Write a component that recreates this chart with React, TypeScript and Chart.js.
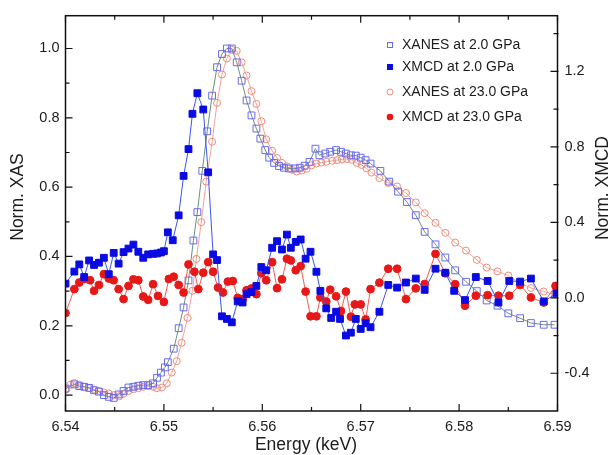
import React, { useEffect, useRef } from 'react';
import { Chart, registerables } from 'chart.js';

Chart.register(...registerables);

// ---------------- data ----------------
const xanes2Energy = [
  6.5400, 6.5409, 6.5414, 6.5419, 6.5424, 6.5429, 6.5434, 6.5439, 6.5444, 6.5449,
  6.5454, 6.5459, 6.5464, 6.5469, 6.5474, 6.5479, 6.5484, 6.5489, 6.5493, 6.5497,
  6.5501, 6.5504, 6.5510, 6.5515, 6.5520, 6.5525, 6.5530, 6.5534, 6.5539, 6.5544,
  6.5549, 6.5554, 6.5559, 6.5564, 6.5569, 6.5574, 6.5579, 6.5584, 6.5589, 6.5594,
  6.5598, 6.5603, 6.5607, 6.5612, 6.5617, 6.5622, 6.5627, 6.5633, 6.5638, 6.5643,
  6.5648, 6.5654, 6.5658, 6.5664, 6.5669, 6.5675, 6.5680, 6.5685, 6.5690, 6.5695,
  6.5700, 6.5705, 6.5710, 6.5720, 6.5729, 6.5738, 6.5747, 6.5756, 6.5765, 6.5776,
  6.5786, 6.5796, 6.5807, 6.5818, 6.5828, 6.5839, 6.5850, 6.5862, 6.5873, 6.5886, 6.5897,
];
const xanes2Values = [
  0.019, 0.031, 0.026, 0.024, 0.021, 0.014, 0.010, 0.000, -0.005, -0.008,
  0.002, 0.012, 0.022, 0.024, 0.027, 0.029, 0.029, 0.034, 0.050, 0.065,
  0.080, 0.095, 0.134, 0.193, 0.253, 0.331, 0.446, 0.528, 0.647, 0.761,
  0.864, 0.946, 0.984, 1.000, 1.000, 0.960, 0.907, 0.850, 0.807, 0.769,
  0.740, 0.707, 0.685, 0.670, 0.661, 0.656, 0.654, 0.654, 0.656, 0.662,
  0.673, 0.711, 0.692, 0.697, 0.702, 0.707, 0.702, 0.697, 0.692, 0.691,
  0.685, 0.678, 0.668, 0.647, 0.616, 0.587, 0.557, 0.519, 0.471, 0.435,
  0.397, 0.360, 0.327, 0.300, 0.273, 0.258, 0.236, 0.222, 0.208, 0.203, 0.203,
];

const xanes23Energy = [
  6.5400, 6.5405, 6.5409, 6.5414, 6.5419, 6.5424, 6.5429, 6.5434, 6.5439, 6.5444,
  6.5449, 6.5455, 6.5459, 6.5464, 6.5469, 6.5474, 6.5479, 6.5484, 6.5489, 6.5493,
  6.5498, 6.5503, 6.5508, 6.5513, 6.5518, 6.5524, 6.5529, 6.5533, 6.5538, 6.5543,
  6.5549, 6.5554, 6.5559, 6.5564, 6.5569, 6.5574, 6.5579, 6.5584, 6.5589, 6.5594,
  6.5599, 6.5604, 6.5610, 6.5615, 6.5620, 6.5625, 6.5630, 6.5635, 6.5640, 6.5645,
  6.5650, 6.5655, 6.5660, 6.5665, 6.5671, 6.5676, 6.5681, 6.5686, 6.5691, 6.5696,
  6.5701, 6.5706, 6.5711, 6.5719, 6.5728, 6.5737, 6.5746, 6.5756, 6.5765, 6.5776,
  6.5786, 6.5796, 6.5807, 6.5818, 6.5828, 6.5839, 6.5850, 6.5862, 6.5873, 6.5886, 6.5897,
];
const xanes23Values = [
  0.016, 0.030, 0.035, 0.030, 0.024, 0.020, 0.016, 0.012, 0.008, 0.005,
  0.000, -0.003, 0.004, 0.012, 0.017, 0.020, 0.024, 0.026, 0.024, 0.020,
  0.022, 0.034, 0.065, 0.098, 0.151, 0.223, 0.301, 0.393, 0.499, 0.616,
  0.731, 0.843, 0.925, 0.971, 0.996, 0.993, 0.960, 0.922, 0.877, 0.840,
  0.790, 0.738, 0.705, 0.684, 0.670, 0.660, 0.650, 0.645, 0.648, 0.653,
  0.663, 0.668, 0.671, 0.673, 0.676, 0.678, 0.680, 0.681, 0.679, 0.670,
  0.664, 0.654, 0.642, 0.626, 0.612, 0.602, 0.583, 0.556, 0.525, 0.497,
  0.468, 0.440, 0.417, 0.390, 0.368, 0.357, 0.345, 0.323, 0.309, 0.299, 0.290,
];

const xmcd2Energy = [
  6.5400, 6.5409, 6.5414, 6.5419, 6.5424, 6.5429, 6.5434, 6.5439, 6.5444, 6.5449,
  6.5454, 6.5459, 6.5464, 6.5469, 6.5474, 6.5479, 6.5484, 6.5489, 6.5493, 6.5497,
  6.5500, 6.5504, 6.5509, 6.5515, 6.5520, 6.5525, 6.5529, 6.5534, 6.5540, 6.5545,
  6.5550, 6.5554, 6.5559, 6.5564, 6.5569, 6.5575, 6.5580, 6.5584, 6.5589, 6.5594,
  6.5599, 6.5604, 6.5610, 6.5615, 6.5620, 6.5625, 6.5629, 6.5634, 6.5639, 6.5644,
  6.5649, 6.5655, 6.5659, 6.5665, 6.5670, 6.5675, 6.5679, 6.5685, 6.5690, 6.5695,
  6.5700, 6.5705, 6.5710, 6.5719, 6.5728, 6.5737, 6.5746, 6.5756, 6.5765, 6.5776,
  6.5786, 6.5795, 6.5806, 6.5817, 6.5829, 6.5840, 6.5851, 6.5862, 6.5873, 6.5886, 6.5899,
];
const xmcd2Values = [
  0.075, 0.139, 0.177, 0.110, 0.198, 0.174, 0.186, 0.212, 0.125, 0.238,
  0.181, 0.242, 0.261, 0.282, 0.244, 0.212, 0.230, 0.233, 0.235, 0.240,
  0.247, 0.347, 0.305, 0.437, 0.646, 0.788, 0.975, 1.084, 0.998, 0.665,
  0.230, 0.200, -0.098, -0.112, -0.130, -0.019, -0.025, 0.019, 0.030, 0.063,
  0.163, 0.146, 0.265, 0.300, 0.256, 0.335, 0.265, 0.296, 0.309, 0.207,
  0.244, 0.138, 0.037, -0.056, -0.107, -0.074, -0.112, -0.200, -0.185, -0.112,
  -0.165, -0.135, -0.156, -0.074, 0.068, 0.054, 0.081, 0.102, 0.042, 0.154,
  0.133, 0.037, -0.012, 0.110, 0.089, -0.025, 0.089, 0.086, 0.102, -0.019, 0.023,
];

const xmcd23Energy = [
  6.5400, 6.5409, 6.5414, 6.5419, 6.5425, 6.5429, 6.5434, 6.5439, 6.5444, 6.5449,
  6.5454, 6.5459, 6.5464, 6.5469, 6.5474, 6.5479, 6.5484, 6.5489, 6.5494, 6.5500,
  6.5505, 6.5510, 6.5515, 6.5520, 6.5525, 6.5531, 6.5535, 6.5540, 6.5545, 6.5550,
  6.5555, 6.5560, 6.5565, 6.5570, 6.5575, 6.5580, 6.5584, 6.5589, 6.5594, 6.5599,
  6.5604, 6.5610, 6.5615, 6.5620, 6.5625, 6.5629, 6.5634, 6.5639, 6.5644, 6.5649,
  6.5655, 6.5659, 6.5665, 6.5669, 6.5675, 6.5680, 6.5685, 6.5690, 6.5694, 6.5700,
  6.5705, 6.5710, 6.5719, 6.5728, 6.5737, 6.5746, 6.5756, 6.5765, 6.5776, 6.5786,
  6.5796, 6.5806, 6.5817, 6.5829, 6.5840, 6.5851, 6.5862, 6.5873, 6.5886, 6.5898,
];
const xmcd23Values = [
  -0.081, 0.046, 0.081, 0.100, 0.093, 0.037, 0.068, 0.125, 0.102, 0.093,
  0.046, -0.007, 0.063, 0.098, 0.093, 0.007, -0.011, 0.072, 0.010, -0.022,
  0.100, 0.112, 0.068, 0.028, 0.177, 0.138, 0.046, 0.133, 0.189, 0.138,
  0.054, 0.028, 0.086, 0.089, 0.000, -0.007, 0.040, 0.050, 0.019, 0.130,
  0.093, 0.189, 0.051, 0.098, 0.207, 0.198, 0.146, 0.168, 0.033, -0.098,
  -0.098, 0.002, -0.020, 0.043, 0.008, -0.070, 0.033, -0.100, -0.035, -0.035,
  -0.115, 0.046, 0.080, 0.154, 0.154, -0.007, 0.050, 0.073, 0.233, 0.130,
  0.072, -0.042, 0.011, 0.014, 0.011, 0.011, 0.068, 0.002, -0.025, 0.063,
];

const xTicks = [6.54, 6.55, 6.56, 6.57, 6.58, 6.59];
const xMinorTicks = [6.545, 6.555, 6.565, 6.575, 6.585];
const leftTicks = [0, 0.2, 0.4, 0.6, 0.8, 1.0];
const leftMinorTicks = [0.1, 0.3, 0.5, 0.7, 0.9];
const rightTicks = [-0.4, 0, 0.4, 0.8, 1.2];
const rightMinorTicks = [-0.2, 0.2, 0.6, 1.0, 1.4];

const seriesLabels = ['XANES at 2.0 GPa', 'XMCD at 2.0 GPa', 'XANES at 23.0 GPa', 'XMCD at 23.0 GPa'];
const xTitle = 'Energy (keV)';
const yLeftTitle = 'Norm. XAS';
const yRightTitle = 'Norm. XMCD';

// ---------------- styling ----------------
const FONT = '"Liberation Sans", Arial, Helvetica, sans-serif';
const TEXT = '#1c1c1c';
const C_XANES2 = '#6a6af0';
const C_XANES2_LINE = '#6e8c80';
const C_XMCD2 = '#0a0ae2';
const C_XMCD2_LINE = '#3a55ee';
const C_XANES23 = '#f08a7a';
const C_XANES23_LINE = '#f0a394';
const C_XMCD23 = '#e81818';
const C_XMCD23_LINE = '#f05a50';

const toPoints = (xs: number[], ys: number[]) => xs.map((x, i) => ({ x, y: ys[i] }));

const decorPlugin = {
  id: 'decor',
  afterDatasetsDraw(chart: any) {
    const { ctx, chartArea: a, scales } = chart;
    const sx = scales.x, yl = scales.y, yr = scales.y2;
    ctx.save();
    // frame
    ctx.strokeStyle = '#111';
    ctx.lineWidth = 1.5;
    ctx.strokeRect(a.left, a.top, a.right - a.left, a.bottom - a.top);
    // inward ticks
    ctx.lineWidth = 1.2;
    ctx.beginPath();
    const xt = (vals: number[], len: number) => vals.forEach((v) => {
      const p = sx.getPixelForValue(v);
      ctx.moveTo(p, a.bottom); ctx.lineTo(p, a.bottom - len);
      ctx.moveTo(p, a.top); ctx.lineTo(p, a.top + len);
    });
    xt(xTicks, 7); xt(xMinorTicks, 4);
    const lt = (vals: number[], len: number) => vals.forEach((v) => {
      const p = yl.getPixelForValue(v);
      ctx.moveTo(a.left, p); ctx.lineTo(a.left + len, p);
    });
    lt(leftTicks, 7); lt(leftMinorTicks, 4);
    const rt = (vals: number[], len: number) => vals.forEach((v) => {
      const p = yr.getPixelForValue(v);
      if (p < a.top || p > a.bottom) return;
      ctx.moveTo(a.right + 1, p); ctx.lineTo(a.right - len, p);
    });
    rt(rightTicks, 7); rt(rightMinorTicks, 4);
    ctx.stroke();

    // axis titles
    ctx.fillStyle = TEXT;
    ctx.font = `17.5px ${FONT}`;
    ctx.textAlign = 'center';
    ctx.textBaseline = 'middle';
    ctx.fillText(xTitle, 306, 445);
    ctx.save();
    ctx.translate(18, 197);
    ctx.rotate(-Math.PI / 2);
    ctx.fillText(yLeftTitle, 0, 0);
    ctx.restore();
    ctx.save();
    ctx.translate(603, 188);
    ctx.rotate(-Math.PI / 2);
    ctx.fillText(yRightTitle, 0, 0);
    ctx.restore();

    // legend
    const ly = [45, 67, 92, 117];
    const mx = 390;
    ctx.font = `14px ${FONT}`;
    ctx.textAlign = 'left';
    ctx.lineWidth = 1;
    ly.forEach((y, i) => {
      if (i === 0) {
        ctx.strokeStyle = C_XANES2;
        ctx.strokeRect(mx - 2.5, y - 2.5, 5, 5);
      } else if (i === 1) {
        ctx.fillStyle = C_XMCD2;
        ctx.fillRect(mx - 3, y - 3, 6, 6);
      } else if (i === 2) {
        ctx.strokeStyle = C_XANES23;
        ctx.beginPath(); ctx.arc(mx, y, 3, 0, Math.PI * 2); ctx.stroke();
      } else {
        ctx.fillStyle = C_XMCD23;
        ctx.beginPath(); ctx.arc(mx, y, 3.3, 0, Math.PI * 2); ctx.fill();
      }
      ctx.fillStyle = TEXT;
      ctx.fillText(seriesLabels[i], 402, y + 0.5);
    });
    ctx.restore();
  },
};

export default function App() {
  const ref = useRef<HTMLCanvasElement | null>(null);

  useEffect(() => {
    if (!ref.current) return;
    const tickFont = { family: FONT, size: 14.5 };
    const chart = new Chart(ref.current, {
      type: 'line',
      data: {
        datasets: [
          {
            label: seriesLabels[1],
            data: toPoints(xmcd2Energy, xmcd2Values),
            yAxisID: 'y2',
            borderColor: C_XMCD2_LINE,
            borderWidth: 1,
            pointStyle: 'rect',
            pointRadius: 4.8,
            pointBorderWidth: 1,
            pointBackgroundColor: C_XMCD2,
            pointBorderColor: C_XMCD2,
            tension: 0,
          },
          {
            label: seriesLabels[3],
            data: toPoints(xmcd23Energy, xmcd23Values),
            yAxisID: 'y2',
            borderColor: C_XMCD23_LINE,
            borderWidth: 1,
            pointStyle: 'circle',
            pointRadius: 3.9,
            pointBorderWidth: 1,
            pointBackgroundColor: C_XMCD23,
            pointBorderColor: C_XMCD23,
            tension: 0,
          },
          {
            label: seriesLabels[0],
            data: toPoints(xanes2Energy, xanes2Values),
            yAxisID: 'y',
            borderColor: C_XANES2_LINE,
            borderWidth: 1,
            pointStyle: 'rect',
            pointRadius: 4.8,
            pointBorderWidth: 1,
            pointBackgroundColor: 'rgba(255,255,255,0)',
            pointBorderColor: C_XANES2,
            tension: 0,
          },
          {
            label: seriesLabels[2],
            data: toPoints(xanes23Energy, xanes23Values),
            yAxisID: 'y',
            borderColor: C_XANES23_LINE,
            borderWidth: 1,
            pointStyle: 'circle',
            pointRadius: 3.5,
            pointBorderWidth: 1,
            pointBackgroundColor: 'rgba(255,255,255,0)',
            pointBorderColor: C_XANES23,
            tension: 0,
          },
        ],
      },
      options: {
        responsive: false,
        animation: false,
        layout: { padding: { top: 13, left: 0, right: 0, bottom: 0 } },
        plugins: { legend: { display: false }, tooltip: { enabled: false } },
        scales: {
          x: {
            type: 'linear',
            min: 6.54,
            max: 6.59,
            grid: { display: false, drawTicks: false },
            border: { display: false },
            ticks: {
              font: tickFont,
              color: TEXT,
              padding: 7,
              maxRotation: 0,
              callback: (v: any) => Number(v).toFixed(2),
            },
            afterBuildTicks: (s: any) => { s.ticks = xTicks.map((value) => ({ value })); },
            afterFit: (s: any) => { s.height = 44; },
          },
          y: {
            type: 'linear',
            position: 'left',
            min: -0.0458,
            max: 1.0946,
            grid: { display: false, drawTicks: false },
            border: { display: false },
            ticks: {
              font: tickFont,
              color: TEXT,
              padding: 6,
              callback: (v: any) => Number(v).toFixed(1),
            },
            afterBuildTicks: (s: any) => { s.ticks = leftTicks.map((value) => ({ value })); },
            afterFit: (s: any) => { s.width = 65.5; },
          },
          y2: {
            type: 'linear',
            position: 'right',
            min: -0.6,
            max: 1.495,
            grid: { display: false, drawTicks: false },
            border: { display: false },
            ticks: {
              font: tickFont,
              color: TEXT,
              padding: 7,
              callback: (v: any) => Number(v).toFixed(1),
            },
            afterBuildTicks: (s: any) => { s.ticks = rightTicks.map((value) => ({ value })); },
            afterFit: (s: any) => { s.width = 54.5; },
          },
        },
      },
      plugins: [decorPlugin],
    } as any);
    return () => chart.destroy();
  }, []);

  return (
    <div style={{ position: 'fixed', left: 0, top: 0, width: 612, height: 455, background: '#fff' }}>
      <canvas ref={ref} width={612} height={455} style={{ width: 612, height: 455, display: 'block' }} />
    </div>
  );
}
